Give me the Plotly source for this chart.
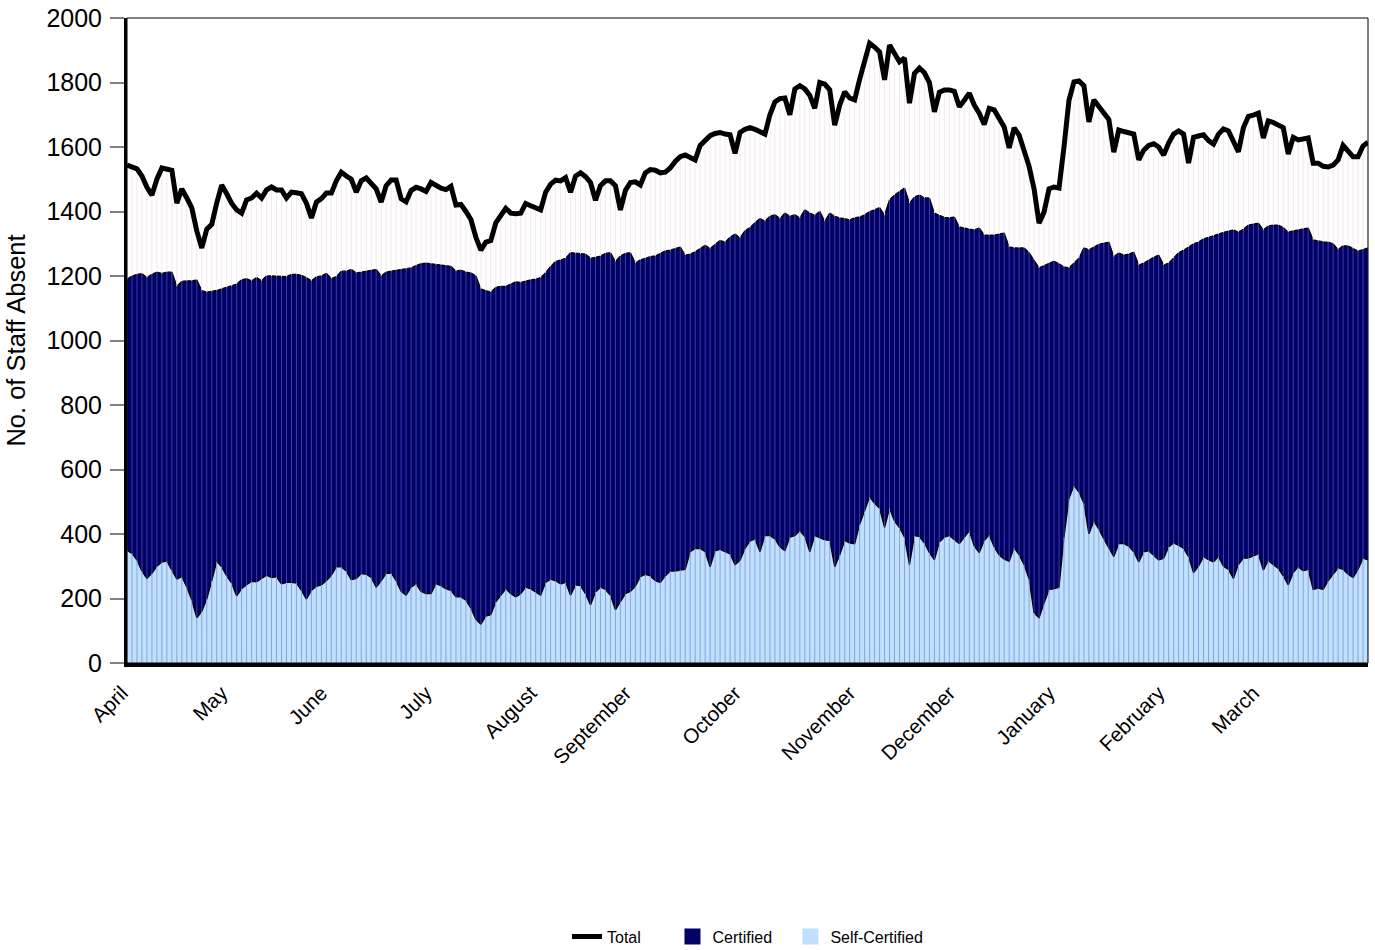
import plotly.graph_objects as go

# ---- data ----
months = ["April", "May", "June", "July", "August", "September", "October",
          "November", "December", "January", "February", "March"]
month_start_idx = [0, 20, 40, 61, 82, 101, 123, 146, 166, 186, 208, 227]

self_certified = [
    350, 340, 319, 285, 262, 278, 300, 313, 316, 290,
    260, 268, 235, 195, 140, 160, 198, 255, 315, 298,
    270, 248, 208, 230, 243, 253, 252, 262, 272, 265,
    267, 245, 250, 250, 248, 225, 198, 225, 238, 242,
    255, 272, 298, 298, 285, 258, 262, 277, 275, 265,
    235, 255, 278, 279, 255, 222, 210, 235, 245, 222,
    215, 215, 245, 240, 230, 225, 205, 205, 195, 170,
    135, 120, 145, 150, 190, 210, 230, 215, 205, 215,
    235, 230, 220, 210, 250, 260, 255, 245, 250, 210,
    242, 240, 215, 180, 220, 235, 228, 210, 165, 190,
    215, 222, 238, 268, 275, 270, 255, 250, 270, 285,
    285, 288, 290, 345, 355, 355, 345, 298, 348, 352,
    345, 338, 305, 318, 355, 378, 385, 345, 395, 395,
    385, 360, 348, 390, 395, 410, 392, 345, 395, 388,
    382, 380, 298, 335, 380, 372, 370, 430, 470, 515,
    495, 480, 420, 480, 440, 420, 390, 305, 395, 392,
    372, 342, 320, 375, 390, 395, 382, 370, 390, 410,
    362, 342, 380, 397, 360, 335, 322, 315, 358, 335,
    305, 260, 155, 140, 185, 228, 230, 235, 390, 510,
    550, 530, 495, 400, 440, 415, 385, 355, 330, 370,
    370, 362, 345, 313, 345, 348, 335, 319, 325, 360,
    372, 365, 355, 330, 280, 300, 330, 320, 313, 330,
    300, 290, 262, 305, 325, 325, 332, 338, 288, 318,
    305, 293, 270, 242, 280, 298, 286, 290, 228, 232,
    228, 255, 275, 295, 290, 275, 265, 290, 325, 320,
]

certified = [
    840, 860, 886, 922, 933, 927, 912, 895, 896, 922,
    908, 915, 950, 990, 1048, 995, 952, 897, 840, 862,
    895, 920, 967, 958, 949, 932, 943, 923, 928, 935,
    933, 953, 948, 955, 957, 977, 997, 960, 959, 958,
    953, 920, 900, 917, 930, 962, 948, 935, 940, 953,
    985, 945, 934, 936, 963, 998, 1012, 990, 987, 1016,
    1025, 1023, 990, 995, 1002, 1005, 1010, 1013, 1017, 1040,
    1065, 1040, 1010, 1000, 975, 958, 938, 960, 977, 965,
    950, 958, 970, 985, 960, 970, 990, 1005, 1005, 1062,
    1028, 1028, 1053, 1075, 1038, 1027, 1042, 1062, 1080, 1072,
    1055, 1050, 1002, 982, 980, 990, 1007, 1020, 1008, 995,
    1000, 1002, 975, 923, 920, 930, 950, 987, 950, 958,
    960, 982, 1025, 1000, 985, 972, 980, 1033, 975, 990,
    1005, 1018, 1047, 995, 995, 970, 1013, 1050, 993, 1012,
    988, 1015, 1087, 1045, 998, 1002, 1010, 953, 920, 885,
    910, 932, 969, 956, 1011, 1042, 1083, 1121, 1050, 1059,
    1070, 1100, 1075, 1013, 992, 985, 1001, 982, 958, 935,
    981, 1007, 947, 930, 967, 995, 1011, 975, 929, 952,
    982, 1012, 1095, 1085, 1047, 1012, 1016, 1003, 838, 715,
    690, 725, 792, 881, 850, 883, 917, 950, 930, 901,
    895, 906, 929, 921, 895, 902, 923, 946, 909, 880,
    883, 907, 925, 960, 1020, 1005, 985, 1000, 1011, 1000,
    1035, 1050, 1081, 1031, 1020, 1033, 1030, 1026, 1055, 1037,
    1053, 1065, 1080, 1094, 1060, 1045, 1060, 1059, 1084, 1076,
    1078, 1050, 1025, 987, 1003, 1018, 1020, 987, 957, 967,
]

total = [
    1544, 1540, 1532, 1510, 1475, 1451, 1500, 1535, 1531, 1528,
    1426, 1470, 1442, 1411, 1340, 1287, 1345, 1360, 1426, 1482,
    1455, 1425, 1405, 1395, 1436, 1442, 1457, 1442, 1467, 1476,
    1467, 1467, 1442, 1460, 1458, 1455, 1426, 1380, 1429, 1440,
    1457, 1457, 1495, 1522, 1510, 1500, 1460, 1495, 1504, 1485,
    1470, 1429, 1480, 1498, 1498, 1440, 1430, 1465, 1475, 1470,
    1462, 1490, 1480, 1472, 1468, 1478, 1420, 1422, 1400, 1375,
    1320, 1280, 1305, 1310, 1365, 1390, 1410, 1395, 1393, 1395,
    1425, 1418, 1410, 1405, 1460, 1485, 1497, 1495, 1505, 1460,
    1510, 1520, 1508, 1490, 1435, 1480, 1495, 1495, 1480, 1405,
    1465, 1490, 1492, 1482, 1520, 1530, 1528, 1520, 1522, 1535,
    1555, 1570, 1575, 1568, 1560, 1605, 1620, 1635, 1642, 1645,
    1640, 1638, 1580, 1645, 1655, 1660, 1655, 1648, 1640, 1700,
    1740, 1750, 1752, 1700, 1780, 1790, 1780, 1760, 1720, 1800,
    1795, 1777, 1668, 1730, 1771, 1752, 1746, 1810, 1870, 1922,
    1910, 1895, 1808, 1916, 1890, 1864, 1876, 1736, 1828, 1845,
    1830, 1800, 1709, 1770, 1777, 1777, 1773, 1725, 1745, 1767,
    1730, 1705, 1670, 1720, 1715, 1690, 1662, 1597, 1659, 1637,
    1590, 1540, 1470, 1364, 1398, 1470, 1476, 1473, 1600, 1745,
    1802, 1805, 1790, 1678, 1746, 1725, 1700, 1685, 1584, 1653,
    1648, 1645, 1640, 1560, 1590, 1605, 1610, 1600, 1575, 1612,
    1640, 1650, 1640, 1550, 1630, 1634, 1638, 1620, 1609, 1640,
    1656, 1650, 1620, 1585, 1660, 1695, 1699, 1705, 1628, 1681,
    1676, 1668, 1660, 1578, 1630, 1622, 1625, 1628, 1550, 1550,
    1540, 1538, 1544, 1560, 1605, 1590, 1570, 1570, 1603, 1615,
]

# ---- derived helpers ----
n = len(total)
days = list(range(n))
stack_top = [s + c for s, c in zip(self_certified, certified)]
zeros = [0] * n


def stripes(base, top):
    xs, ys = [], []
    for i, (b, t) in enumerate(zip(base, top)):
        xs += [i, i, None]
        ys += [b, t, None]
    return xs, ys


NAVY = "#000066"
LIGHT = "#BFE1FF"
FONT = "Arial, Liberation Sans, sans-serif"
SP = "&nbsp;"

fig = go.Figure()

fig.add_trace(go.Scatter(
    x=days, y=self_certified, name="Self-Certified", stackgroup="one",
    mode="lines", line=dict(color="black", width=1.3), fillcolor=LIGHT,
    showlegend=False))
fig.add_trace(go.Scatter(
    x=days, y=certified, name="Certified", stackgroup="one",
    mode="lines", line=dict(color="black", width=1.3), fillcolor=NAVY,
    showlegend=False))

sx, sy = stripes(zeros, self_certified)
fig.add_trace(go.Scatter(x=sx, y=sy, mode="lines",
                         line=dict(color="#8CA4DA", width=1),
                         hoverinfo="skip", showlegend=False))
cx, cy = stripes(self_certified, stack_top)
fig.add_trace(go.Scatter(x=cx, y=cy, mode="lines",
                         line=dict(color="#3E3E9E", width=1),
                         hoverinfo="skip", showlegend=False))
wx, wy = stripes(stack_top, total)
fig.add_trace(go.Scatter(x=wx, y=wy, mode="lines",
                         line=dict(color="#F6E8EE", width=1),
                         hoverinfo="skip", showlegend=False))

fig.add_trace(go.Scatter(
    x=days, y=total, name="Total" + SP * 6, mode="lines",
    line=dict(color="black", width=5)))

# legend entries for the filled series
fig.add_trace(go.Scatter(x=[None], y=[None], mode="markers",
                         name="Certified" + SP * 3,
                         marker=dict(symbol="square", size=19, color=NAVY)))
fig.add_trace(go.Scatter(x=[None], y=[None], mode="markers",
                         name="Self-Certified",
                         marker=dict(symbol="square", size=19, color=LIGHT)))

fig.update_layout(
    width=1375, height=950,
    margin=dict(l=127, r=7, t=18, b=287),
    paper_bgcolor="white", plot_bgcolor="white",
    font=dict(family=FONT, color="black"),
    showlegend=True,
    legend=dict(orientation="h", x=0.5, xanchor="center",
                yref="container", y=0.014, yanchor="middle",
                font=dict(size=16, family=FONT), traceorder="normal"),
    xaxis=dict(
        range=[0, n - 1], tickmode="array", tickvals=month_start_idx,
        ticktext=months, tickangle=-45, ticks="", showgrid=False,
        zeroline=False, showline=True, linecolor="black", linewidth=4,
        automargin=False, ticklabelstandoff=6, ticklabelshift=-5,
        tickfont=dict(size=20.5, family=FONT)),
    yaxis=dict(
        range=[0, 2000], dtick=200, ticks="outside", ticklen=14,
        tickcolor="#808080", tickwidth=1.5, showgrid=False, zeroline=False,
        showline=True, linecolor="black", linewidth=3, automargin=False,
        ticklabelstandoff=3,
        tickfont=dict(size=25, family=FONT),
        title=dict(text="No. of Staff Absent", font=dict(size=25.5, family=FONT),
                   standoff=14)),
    shapes=[dict(type="rect", xref="paper", yref="paper", x0=0, x1=1, y0=0,
                 y1=1, line=dict(color="black", width=1), layer="above")],
)

fig.write_html(
    "out.html",
    config={"displayModeBar": False},
    post_script="document.body.style.margin='0';document.body.style.overflow='hidden';",
)
